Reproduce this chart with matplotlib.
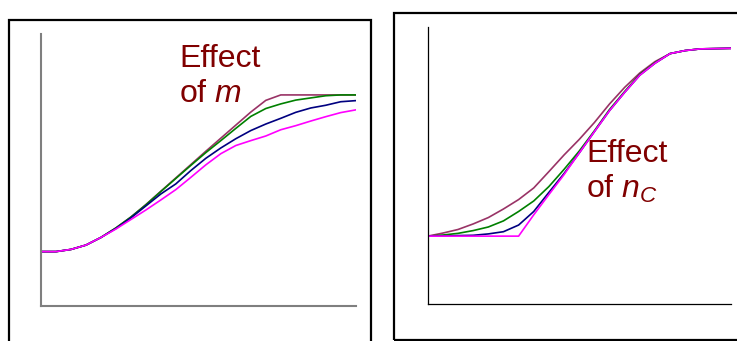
import matplotlib
matplotlib.use("Agg")
import matplotlib.pyplot as plt
from matplotlib.patches import Rectangle

plt.rcParams["font.family"] = ["Liberation Sans", "DejaVu Sans"]
plt.rcParams["mathtext.fontset"] = "custom"
plt.rcParams["mathtext.rm"] = "Liberation Sans"
plt.rcParams["mathtext.it"] = "Liberation Sans:italic"

# Left panel: response curves for four values of m
m_x = list(range(22))
m_curve_1 = [20.0, 20.0, 20.8, 22.4, 25.2, 28.7, 32.7, 37.3, 42.2, 47.1, 52.0,
             56.9, 61.7, 66.5, 71.3, 75.6, 77.6, 77.6, 77.6, 77.6, 77.6, 77.6]
m_curve_2 = [20.0, 20.0, 20.8, 22.4, 25.2, 28.7, 32.7, 37.2, 42.1, 46.9, 51.7,
             56.4, 60.8, 65.3, 69.7, 72.6, 74.3, 75.7, 76.5, 77.3, 77.6, 77.6]
m_curve_3 = [20.0, 20.0, 20.8, 22.4, 25.2, 28.5, 32.4, 36.8, 41.2, 44.9, 49.8,
             54.3, 58.1, 61.5, 64.5, 66.9, 69.0, 71.2, 72.8, 73.8, 75.1, 75.5]
m_curve_4 = [20.0, 20.0, 20.8, 22.4, 25.2, 28.3, 31.8, 35.3, 39.0, 42.8, 47.3,
             51.9, 56.0, 59.0, 60.8, 62.5, 64.8, 66.3, 68.0, 69.6, 71.1, 72.1]

# Right panel: response curves for four values of n_C
n_x = list(range(21))
n_curve_1 = [24.5, 25.6, 26.9, 28.9, 31.2, 34.3, 37.7, 41.9, 47.8, 53.8, 59.4,
             65.5, 72.2, 78.2, 83.4, 87.5, 90.4, 91.5, 92.1, 92.2, 92.3]
n_curve_2 = [24.5, 24.9, 25.5, 26.5, 27.8, 30.0, 33.4, 37.2, 42.4, 48.6, 55.2,
             62.5, 70.2, 76.7, 82.9, 87.1, 90.4, 91.5, 92.1, 92.2, 92.3]
n_curve_3 = [24.5, 24.5, 24.7, 24.8, 25.3, 26.1, 28.5, 33.4, 40.3, 47.1, 54.5,
             62.2, 69.8, 76.4, 82.6, 86.9, 90.4, 91.5, 92.1, 92.2, 92.3]
n_curve_4 = [24.5, 24.5, 24.5, 24.5, 24.5, 24.5, 24.5, 32.2, 39.5, 46.7, 54.5,
             62.2, 69.8, 76.4, 82.6, 86.9, 90.4, 91.5, 92.1, 92.2, 92.3]

colors = ["#993366", "#008000", "#000080", "#ff00ff"]
text_color = "#800000"

W, H = 737, 341
fig = plt.figure(figsize=(W / 100, H / 100), dpi=100)


def fx(px):
    return px / W


def fy(py):
    return 1 - py / H


# Frames around the two panels
fig.patches.append(Rectangle((fx(9), fy(360)), fx(371) - fx(9), fy(20) - fy(360),
                             transform=fig.transFigure, fill=False,
                             edgecolor="black", linewidth=1.6))
fig.patches.append(Rectangle((fx(394), fy(340)), fx(760) - fx(394), fy(13) - fy(340),
                             transform=fig.transFigure, fill=False,
                             edgecolor="black", linewidth=1.6))


def style_axes(ax, spine_color, spine_width):
    for side in ("top", "right"):
        ax.spines[side].set_visible(False)
    for side in ("left", "bottom"):
        ax.spines[side].set_color(spine_color)
        ax.spines[side].set_linewidth(spine_width)
    ax.set_xticks([])
    ax.set_yticks([])
    ax.patch.set_alpha(0)


ax1 = fig.add_axes([fx(41), fy(306), fx(355.7) - fx(41), fy(34) - fy(306)])
style_axes(ax1, "#7f7f7f", 1.5)
for ys, c in zip([m_curve_1, m_curve_2, m_curve_3, m_curve_4], colors):
    ax1.plot(m_x, ys, color=c, linewidth=1.2, solid_joinstyle="miter")
ax1.set_xlim(0, 21)
ax1.set_ylim(0, 100)

ax2 = fig.add_axes([fx(427.7), fy(304), fx(730.7) - fx(427.7), fy(27) - fy(304)])
style_axes(ax2, "black", 0.9)
for ys, c in zip([n_curve_1, n_curve_2, n_curve_3, n_curve_4], colors):
    ax2.plot(n_x, ys, color=c, linewidth=1.2, solid_joinstyle="miter")
ax2.set_xlim(0, 20)
ax2.set_ylim(0, 100)

fs = 23
fig.text(fx(179), fy(66.7), "Effect", color=text_color, fontsize=fs,
         ha="left", va="baseline")
fig.text(fx(179), fy(101.7), "of $m$", color=text_color, fontsize=fs,
         ha="left", va="baseline")
fig.text(fx(586), fy(162.3), "Effect", color=text_color, fontsize=fs,
         ha="left", va="baseline")
fig.text(fx(586), fy(197.5), "of $n_C$", color=text_color, fontsize=fs,
         ha="left", va="baseline")

fig.savefig("out.png", dpi=100)
